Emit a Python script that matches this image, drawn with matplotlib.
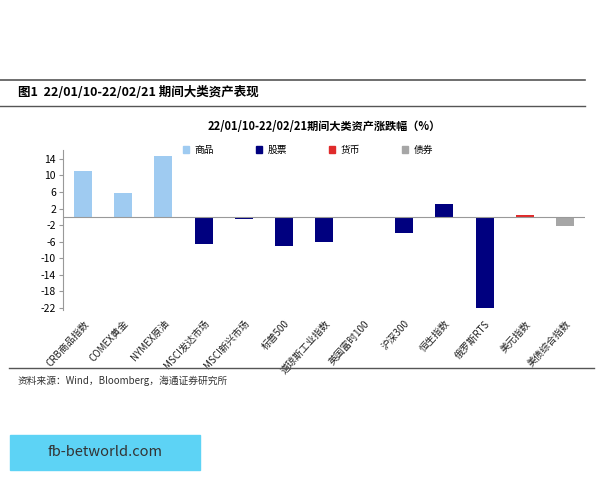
import matplotlib
matplotlib.use("Agg")
import matplotlib.pyplot as plt
from matplotlib.patches import Rectangle, Patch
from matplotlib.lines import Line2D

plt.rcParams['font.family'] = ['Noto Sans CJK SC', 'DejaVu Sans']

categories = ["CRB商品指数", "COMEX黄金", "NYMEX原油", "MSCI发达市场", "MSCI新兴市场", "标普500",
              "道琼斯工业指数", "英国富时100", "沪深300", "恒生指数", "俄罗斯RTS", "美元指数", "美债综合指数"]
values = [11.0, 5.8, 14.8, -6.5, -0.6, -7.1, -6.0, -0.2, -4.0, 3.0, -22.0, 0.5, -2.2]
groups = ["商品", "商品", "商品", "股票", "股票", "股票", "股票", "股票", "股票", "股票", "股票", "货币", "债券"]
group_names = ["商品", "股票", "货币", "债券"]
colors = {"商品": "#9fcbf1", "股票": "#00007f", "货币": "#e02b2b", "债券": "#a6a6a6"}
yticks = [14, 10, 6, 2, -2, -6, -10, -14, -18, -22]

fig = plt.figure(figsize=(6, 4.8), dpi=100)
fig.patch.set_facecolor("white")

fig.add_artist(Line2D([0.0, 0.975], [1-80/480, 1-80/480], color="#555555", lw=1.2))
fig.add_artist(Line2D([0.0, 0.975], [1-106/480, 1-106/480], color="#555555", lw=1.0))
fig.text(0.03, 1-93/480, "图1  22/01/10-22/02/21 期间大类资产表现", fontsize=9, fontweight="bold", va="center")
fig.text(0.54, 1-127/480, "22/01/10-22/02/21期间大类资产涨跌幅（%）", fontsize=8, fontweight="bold", ha="center", va="center")
fig.add_artist(Line2D([0.015, 0.99], [1-368/480, 1-368/480], color="#555555", lw=1.0))
fig.text(0.03, 1-381/480, "资料来源：Wind，Bloomberg，海通证券研究所", fontsize=7, color="#333333", va="center")

ax = fig.add_axes([0.105, 0.354, 0.87, 0.334])
x = list(range(len(categories)))
ax.bar(x, values, width=0.45, color=[colors[g] for g in groups], zorder=2)
ax.set_xlim(-0.5, len(categories) - 0.5)
ax.set_ylim(-22.5, 16.2)
ax.set_yticks(yticks)
ax.set_yticklabels([str(t) for t in yticks], fontsize=7.5)
ax.axhline(0, color="#999999", lw=0.8, zorder=3)
for s in ["top", "right", "bottom"]:
    ax.spines[s].set_visible(False)
ax.spines["left"].set_color("#999999")
ax.tick_params(axis="y", length=3, color="#999999", pad=2)
ax.set_xticks(x)
ax.set_xticklabels(categories, rotation=48, ha="right", rotation_mode="anchor", fontsize=7, color="#222222")
ax.tick_params(axis="x", length=0, pad=6)

handles = [Patch(color=colors[g], label=g) for g in group_names]
fig.legend(handles=handles, loc="center", bbox_to_anchor=(0.513, 1-150/480), ncol=4, frameon=False,
           fontsize=7, handlelength=0.6, handleheight=0.6, columnspacing=4.3, handletextpad=0.6)

fig.add_artist(Rectangle((10/600, 1-470/480), 190/600, 35/480, transform=fig.transFigure, color="#5dd3f5"))
fig.text(105/600, 1-452/480, "fb-betworld.com", fontsize=10.5, color="#333333", ha="center", va="center")

fig.savefig("out.png", dpi=100)
